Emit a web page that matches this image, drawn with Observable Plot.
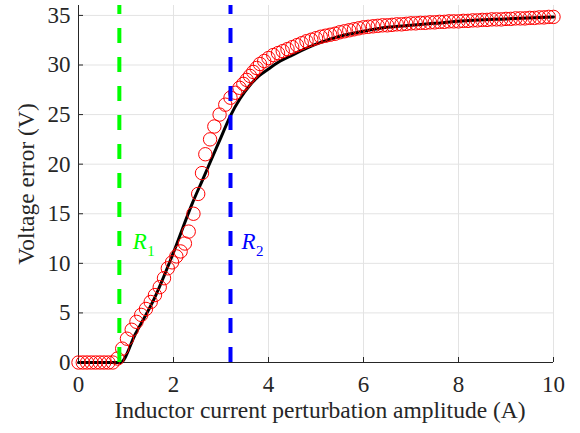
<!DOCTYPE html>
<html><head><meta charset="utf-8">
<script src="https://cdn.jsdelivr.net/npm/d3@7"></script>
<script src="https://cdn.jsdelivr.net/npm/@observablehq/plot@0.6"></script>
<style>body{margin:0;background:#fff}#chart svg{display:block}#chart svg text{font-family:"Liberation Serif","Times New Roman",serif}</style>
</head><body><div id="chart"></div>
<script>
// Measured points (red circles)
const amplitude = [0,0.09,0.18,0.27,0.36,0.45,0.54,0.63,0.72,0.82,0.92,1.02,1.12,1.22,1.32,1.42,1.52,1.61,1.71,1.80,1.88,1.97,2.06,2.15,2.24,2.32,2.42,2.52,2.60,2.67,2.77,2.86,2.97,3.09,3.20,3.30,3.39,3.47,3.54,3.61,3.68,3.75,3.82,3.91,4.00,
4.1,4.2,4.3,4.4,4.5,4.6,4.7,4.8,4.9,5.0,5.1,5.2,5.3,5.4,5.5,5.6,5.7,5.8,5.9,6.0,6.1,6.2,6.3,6.4,6.5,6.6,6.7,6.8,6.9,7.0,7.1,7.2,7.3,7.4,7.5,7.6,7.7,7.8,7.9,8.0,8.1,8.2,8.3,8.4,8.5,8.6,8.7,8.8,8.9,9.0,9.1,9.2,9.3,9.4,9.5,9.6,9.7,9.8,9.9,10.0];
const voltage = [0,0,0,0,0,0,0,0,0,0.4,1.4,2.4,3.3,4.1,4.8,5.4,6.1,6.8,7.6,8.5,9.5,10.1,10.7,11.2,12.0,13.2,15.0,17.0,19.1,21.0,22.5,23.8,25.0,26.0,26.7,27.2,27.7,28.1,28.5,28.9,29.3,29.7,30.1,30.4,30.7,
31.0,31.2,31.4,31.6,31.8,32.0,32.2,32.4,32.55,32.7,32.85,32.95,33.05,33.15,33.3,33.4,33.5,33.6,33.7,33.8,33.85,33.9,33.95,34.0,34.0,34.05,34.1,34.1,34.15,34.2,34.2,34.25,34.25,34.3,34.3,34.35,34.35,34.4,34.4,34.4,34.45,34.45,34.5,34.5,34.55,34.55,34.6,34.6,34.6,34.65,34.65,34.7,34.7,34.7,34.75,34.75,34.8,34.8,34.85,34.85];
// Model curve (black line)
const fitAmplitude = [0,0.88,1.2,1.6,2.0,2.4,2.61,2.8,3.0,3.2,3.4,3.6,3.8,4.0,4.25,4.5,5.0,5.5,6.0,6.5,7.0,7.5,8.0,9.0,10.0];
const fitVoltage = [0,0,2.9,6.5,11.1,16.1,18.4,20.5,22.7,24.9,26.6,27.9,28.9,29.6,30.4,31.0,32.1,32.9,33.4,33.8,34.0,34.2,34.4,34.65,34.85];
// Region boundaries
const thresholds = [0.86, 3.2];
const thresholdColors = ["#00ff00", "#0000ff"];
const thresholdLetters = ["R", "R"];
const thresholdSubs = ["1", "2"];
const labelAmplitude = [1.14, 3.43];
const labelVoltage = [11.45, 11.45];
const xTicks = [0, 2, 4, 6, 8, 10];
const yTicks = [0, 5, 10, 15, 20, 25, 30, 35];
const xLabel = "Inductor current perturbation amplitude (A)";
const yLabel = "Voltage error (V)";

const points = amplitude.map((a, i) => ({a, v: voltage[i]}));
const fit = fitAmplitude.map((a, i) => ({a, v: fitVoltage[i]}));
const bounds = thresholds.map((t, i) => ({t, color: thresholdColors[i], letter: thresholdLetters[i], sub: thresholdSubs[i], lx: labelAmplitude[i], ly: labelVoltage[i]}));

const W = 580, H = 433, mL = 78, mR = 27, mT = 5, mB = 71;
const axisColor = "#262626";
const font = "Liberation Serif";

const chart = Plot.plot({
  width: W, height: H,
  marginLeft: mL, marginRight: mR, marginTop: mT, marginBottom: mB,
  x: {domain: [0, 10], axis: null},
  y: {domain: [0, 36], axis: null},
  color: {type: "identity"},
  style: {fontFamily: font, fontSize: "24px", color: axisColor, background: "#fff"},
  marks: [
    Plot.gridX(xTicks, {stroke: "#e3e3e3", strokeOpacity: 1, strokeWidth: 1}),
    Plot.gridY(yTicks, {stroke: "#e3e3e3", strokeOpacity: 1, strokeWidth: 1}),
    Plot.ruleX([0], {stroke: axisColor, strokeWidth: 1}),
    Plot.ruleY([0], {stroke: axisColor, strokeWidth: 1}),
    Plot.tickX(xTicks, {x: d => d, stroke: axisColor, insetTop: H - mT - mB - 5}),
    Plot.tickY(yTicks, {y: d => d, stroke: axisColor, insetRight: W - mL - mR - 5}),
    Plot.axisX(xTicks, {tickSize: 0, tickPadding: 13, fill: axisColor, fontSize: 23, fontFamily: font, label: null}),
    Plot.axisY(yTicks, {tickSize: 0, tickPadding: 8, fill: axisColor, fontSize: 23, fontFamily: font, label: null}),
    Plot.line(fit, {x: "a", y: "v", stroke: "black", strokeWidth: 3, curve: "monotone-x"}),
    Plot.dot(points, {x: "a", y: "v", r: 6.7, stroke: "#ff0000", strokeWidth: 1, fill: "none"}),
    Plot.ruleX(bounds, {x: "t", y1: 0, y2: 36, stroke: "color", strokeWidth: 4, strokeDasharray: "15,14"}),
    Plot.text(bounds, {x: "lx", y: "ly", text: "letter", fill: "color", fontStyle: "italic", fontSize: 23, textAnchor: "start", lineAnchor: "bottom", fontFamily: font}),
    Plot.text(bounds, {x: "lx", y: "ly", text: "sub", fill: "color", fontSize: 15, textAnchor: "start", lineAnchor: "bottom", dx: 14.5, dy: 7, fontFamily: font}),
    Plot.text([xLabel], {text: d => d, frameAnchor: "bottom", textAnchor: "middle", lineAnchor: "bottom", dy: 55, dx: 4, fill: axisColor, fontSize: 23.5, fontFamily: font}),
    Plot.text([yLabel], {text: d => d, frameAnchor: "left", textAnchor: "middle", lineAnchor: "bottom", rotate: -90, dx: -45, fill: axisColor, fontSize: 23.5, fontFamily: font})
  ]
});
document.getElementById("chart").appendChild(chart);
</script>
</body></html>
